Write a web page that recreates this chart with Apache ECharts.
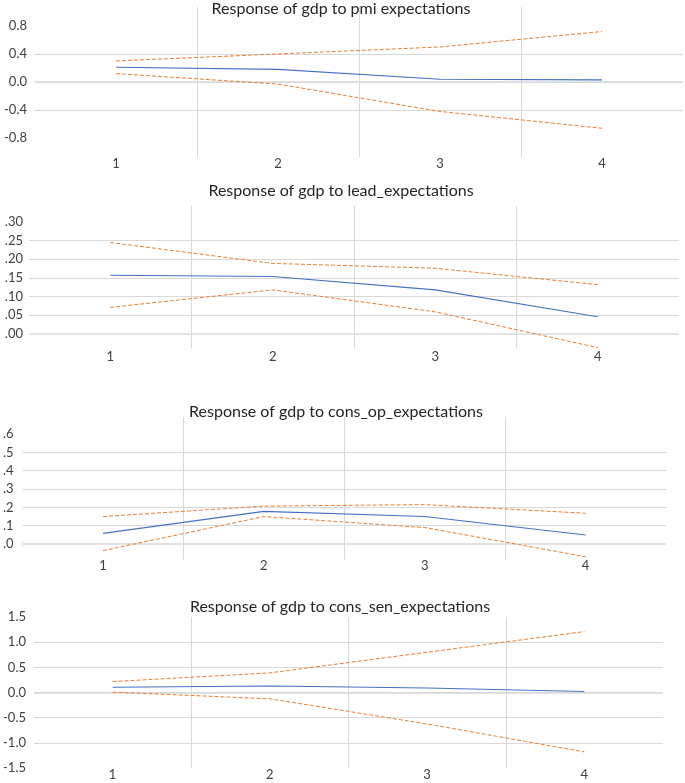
<!DOCTYPE html>
<html><head><meta charset="utf-8">
<script src="https://cdn.jsdelivr.net/npm/echarts@6/dist/echarts.min.js"></script>
<style>html,body{margin:0;padding:0;background:#fff}#c{width:685px;height:783px}</style>
</head><body><div id="c"></div>
<script>
// ---- data ----
const categories = ['1', '2', '3', '4'];
const chartTitles = [
  'Response of gdp to pmi expectations',
  'Response of gdp to lead_expectations',
  'Response of gdp to cons_op_expectations',
  'Response of gdp to cons_sen_expectations'
];
const pmiResponse = [0.21, 0.18, 0.04, 0.03];
const pmiUpper    = [0.30, 0.40, 0.50, 0.72];
const pmiLower    = [0.12, -0.03, -0.42, -0.66];

const leadResponse = [0.157, 0.154, 0.118, 0.046];
const leadUpper    = [0.245, 0.189, 0.176, 0.132];
const leadLower    = [0.071, 0.118, 0.059, -0.037];

const consOpResponse = [0.058, 0.178, 0.150, 0.049];
const consOpUpper    = [0.150, 0.207, 0.215, 0.168];
const consOpLower    = [-0.036, 0.150, 0.090, -0.069];

const consSenResponse = [0.105, 0.130, 0.090, 0.020];
const consSenUpper    = [0.217, 0.390, 0.800, 1.210];
const consSenLower    = [0.007, -0.125, -0.625, -1.180];

const pmiTicks = [-0.8, -0.4, 0, 0.4, 0.8];
const pmiTickLabels = ['-0.8', '-0.4', '0.0', '0.4', '0.8'];
const leadTicks = [0, 0.05, 0.10, 0.15, 0.20, 0.25, 0.30];
const leadTickLabels = ['.00', '.05', '.10', '.15', '.20', '.25', '.30'];
const consOpTicks = [0, 0.1, 0.2, 0.3, 0.4, 0.5, 0.6];
const consOpTickLabels = ['.0', '.1', '.2', '.3', '.4', '.5', '.6'];
const consSenTicks = [-1.5, -1.0, -0.5, 0, 0.5, 1.0, 1.5];
const consSenTickLabels = ['-1.5', '-1.0', '-0.5', '0.0', '0.5', '1.0', '1.5'];

// ---- layout / style ----
const panels = [
  { title: chartTitles[0], tx: 341, ty: 1, grid: {left: 35, top: 7, width: 648, height: 150},
    min: -1.07, max: 1.07, ticks: pmiTicks, labels: pmiTickLabels, ym: 8, xm: 0,
    resp: pmiResponse, up: pmiUpper, lo: pmiLower },
  { title: chartTitles[1], tx: 341, ty: 183, grid: {left: 29, top: 206, width: 650, height: 142},
    min: -0.038, max: 0.343, ticks: leadTicks, labels: leadTickLabels, ym: 6, xm: 2,
    resp: leadResponse, up: leadUpper, lo: leadLower },
  { title: chartTitles[2], tx: 336, ty: 404, grid: {left: 17, top: 417, width: 649, height: 143},
    min: -0.087, max: 0.693, ticks: consOpTicks, labels: consOpTickLabels, ym: 9, xm: -1,
    resp: consOpResponse, up: consOpUpper, lo: consOpLower },
  { title: chartTitles[3], tx: 340, ty: 599, grid: {left: 34, top: 617, width: 629, height: 151},
    min: -1.5, max: 1.5, ticks: consSenTicks, labels: consSenTickLabels, ym: 8, xm: 0,
    resp: consSenResponse, up: consSenUpper, lo: consSenLower }
];

const FONT = 'Lato, "Open Sans", sans-serif';
const GRID_COLOR = '#d9d9d9';
const BLUE = '#4472C4';
const ORANGE = '#ED7D31';

const option = {
  animation: false,
  backgroundColor: '#fff',
  title: [], grid: [], xAxis: [], yAxis: [], series: []
};

panels.forEach((p, i) => {
  option.title.push({
    text: p.title, left: p.tx, top: p.ty, textAlign: 'center', padding: 0,
    textStyle: {fontFamily: FONT, fontSize: 16, fontWeight: 'normal', color: '#262626'}
  });
  option.grid.push(Object.assign({containLabel: false}, p.grid));
  option.xAxis.push({
    type: 'category', gridIndex: i, data: categories, boundaryGap: true,
    axisLine: {show: false}, axisTick: {show: false},
    axisLabel: {fontFamily: FONT, fontSize: 13, color: '#404040', margin: p.xm},
    splitLine: {show: true, showMinLine: false, showMaxLine: false,
      lineStyle: {color: GRID_COLOR, width: 1}}
  });
  const ticks = p.ticks, labels = p.labels;
  option.yAxis.push({
    type: 'value', gridIndex: i, min: p.min, max: p.max,
    axisLine: {show: false},
    axisTick: {show: false, customValues: ticks},
    axisLabel: {fontFamily: FONT, fontSize: 13, color: '#404040', margin: p.ym,
      customValues: ticks,
      showMinLabel: true, showMaxLabel: true,
      formatter: function (v) {
        const k = ticks.findIndex(t => Math.abs(t - v) < 1e-9);
        return k >= 0 ? labels[k] : '';
      }},
    splitLine: {show: true, showMinLine: false, showMaxLine: false,
      lineStyle: {color: GRID_COLOR, width: 1}}
  });
  option.series.push({
    type: 'line', xAxisIndex: i, yAxisIndex: i, data: p.resp, symbol: 'none',
    lineStyle: {color: BLUE, width: 1.1}, z: 3,
    markLine: {silent: true, symbol: ['none', 'none'], z: 1, label: {show: false},
      lineStyle: {color: '#d9d9d9', width: 1.6, type: 'solid'},
      emphasis: {disabled: true},
      data: [{yAxis: 0}]}
  });
  option.series.push({
    type: 'line', xAxisIndex: i, yAxisIndex: i, data: p.up, symbol: 'none', z: 3,
    lineStyle: {color: ORANGE, width: 1, type: [4, 2]}
  });
  option.series.push({
    type: 'line', xAxisIndex: i, yAxisIndex: i, data: p.lo, symbol: 'none', z: 3,
    lineStyle: {color: ORANGE, width: 1, type: [4, 2]}
  });
});

const chart = echarts.init(document.getElementById('c'), null, {renderer: 'canvas'});
chart.setOption(option);
</script>
</body></html>
